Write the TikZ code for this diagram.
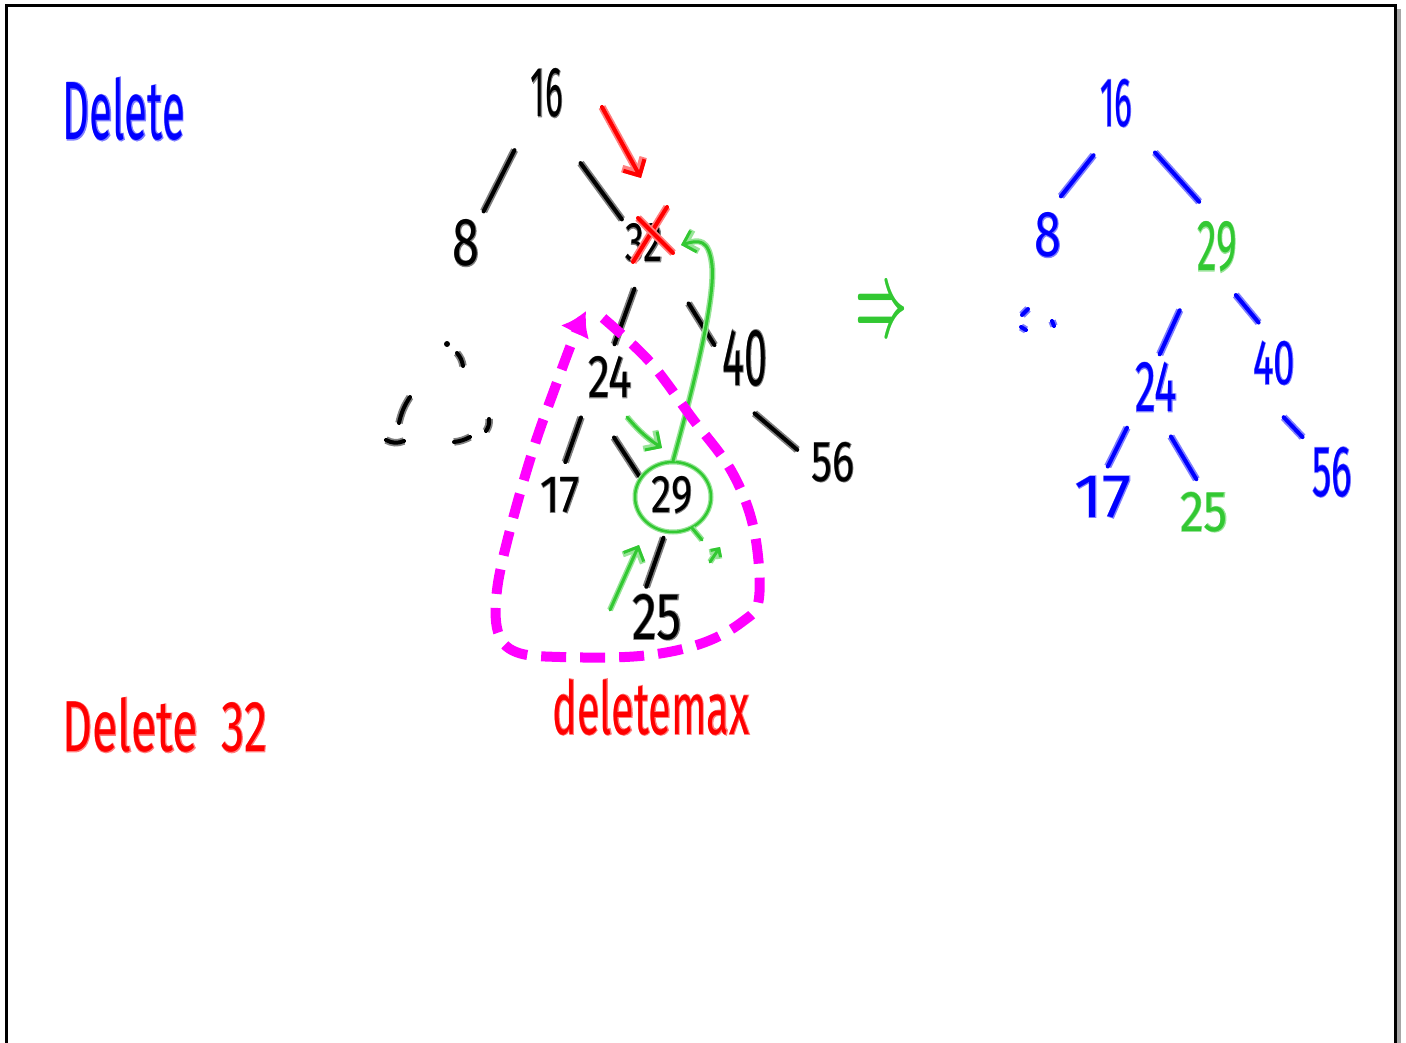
\documentclass[tikz,border=0pt]{standalone}
\usepackage{fontspec}
\setmainfont{Fira Sans}
\newfontfamily\halofont{Fira Sans}[FakeBold=2.5]
\usetikzlibrary{arrows.meta,calc,shapes.geometric}

\definecolor{inkblue}{RGB}{0,0,255}
\definecolor{inkred}{RGB}{255,0,0}
\definecolor{inkgreen}{RGB}{50,200,50}
\definecolor{inkmag}{RGB}{255,0,255}

% handwritten-looking label: halo colour, width, height, text
\newcommand\hw[4]{\resizebox{#2pt}{#3pt}{\rlap{\color{#1}\halofont #4}#4}}
% a tree stroke drawn along the line between two node anchors
\newcommand\seg[5]{\draw[#1] ($(#2)!#4!(#3)$) -- ($(#2)!#5!(#3)$);}

\tikzset{
  lbl/.style={inner sep=0pt, outer sep=0pt},
  kpen/.style={draw=black, line width=4pt, line cap=round, line join=round,
               preaction={draw=black!50, line width=7.5pt}},
  bpen/.style={draw=inkblue, line width=4pt, line cap=round, line join=round,
               preaction={draw=inkblue!50, line width=7.5pt}},
  rpen/.style={draw=inkred, line width=4pt, line cap=round, line join=round,
               preaction={draw=inkred!50, line width=7.5pt}},
  gpen/.style={draw=inkgreen, line width=3pt, line cap=round, line join=round,
               preaction={draw=inkgreen!50, line width=6pt}},
  barb/.style={-{Straight Barb[length=#1]}},
  loop/.style={draw=inkmag, line width=10pt, dash pattern=on 25pt off 14pt,
               line join=round, -{Latex[length=24pt,width=32pt]}}
}

\begin{document}
\begin{tikzpicture}[x=1pt,y=-1pt]
\useasboundingbox (0,0) rectangle (1406,1043);

% page frame with its shadow
\fill[gray!70] (1397,9) rectangle (1401,1043);
\draw[line width=2.5pt] (6.5,1043) -- (6.5,5.5) -- (1395.5,5.5) -- (1395.5,1043);

% titles
\node[lbl, text=inkblue] (tDelete) at (124,109) {\hw{inkblue!50}{122}{62}{Delete}};
\node[lbl, text=inkred] (tDelete32) at (165,725) {\hw{inkred!50}{205}{54}{Delete\hspace{0.5em}32}};
\node[lbl, text=inkred] (tDeletemax) at (651,707) {\hw{inkred!50}{197}{55}{deletemax}};

% left tree
\node[lbl] (n16) at (547,93)  {\hw{black!50}{32}{48}{16}};
\node[lbl] (n8)  at (466,243) {\hw{black!50}{27}{46}{8}};
\node[lbl] (n32) at (644,243) {\hw{black!50}{38}{38}{32}};
\node[lbl] (n24) at (610,377) {\hw{black!50}{44}{41}{24}};
\node[lbl] (n40) at (745,358) {\hw{black!50}{45}{55}{40}};
\node[lbl] (n17) at (560,495) {\hw{black!50}{40}{35}{17}};
\node[lbl] (n29) at (672,495) {\hw{black!50}{41}{36}{29}};
\node[lbl] (n25) at (657,617) {\hw{black!50}{50}{45}{25}};
\node[lbl] (n56) at (833,462) {\hw{black!50}{43}{39}{56}};

\seg{kpen}{n16.south west}{n8.north east}{.32}{.92}
\seg{kpen}{n16.south}{n32.north west}{.43}{.96}
\seg{kpen}{n32.south}{n24.north}{.28}{.87}
\seg{kpen}{n32.south east}{n40.west}{.43}{.865}
\seg{kpen}{n24.south west}{n17.north}{.25}{.81}
\seg{kpen}{n24.south west}{n29.west}{.41}{.81}
\seg{kpen}{n29.south}{n25.120}{.3}{.91}
\seg{kpen}{n40.south west}{n56.west}{.36}{.84}

% elided subtree of 8
\fill (447,344) circle (3pt);
\draw[kpen] (457,353) to[bend left=15] (463,366);
\draw[kpen] (410,397) to[bend right=10] (399,423);
\draw[kpen] (386,440) to[bend right=25] (404,441);
\draw[kpen] (454,442) to[bend right=10] (470,437);
\draw[kpen] (489,419) to[bend left=20] (486,431);

% 32 is crossed out
\draw[rpen, barb=12pt] (602,107) -- (641,178);
\draw[rpen] (667,207) -- (633,262);
\draw[rpen] (638,218) -- (673,253);

% the maximum of the left subtree
\node[draw=inkgreen, line width=2.5pt, ellipse, minimum width=76pt, minimum height=70pt,
      preaction={draw=inkgreen!50, line width=5pt}] (c29) at (673,497) {};
\draw[gpen, barb=11pt] (c29.north) .. controls (690,400) and (716,300) .. (712,265)
      .. controls (709,238) and (698,240) .. ($(n32.east)+(18,2)$);
\draw[gpen, barb=11pt] (627,417) to[bend right=8] (662,448);
\draw[gpen, barb=11pt] (610,610) -- (639,545);
\draw[gpen] (692,528) -- (702,540);
\draw[gpen, barb=6pt] (710,562) -- (720,547);

% deletemax runs over this subtree
\draw[loop] plot[smooth, tension=0.6] coordinates {
  (603,318) (650,362) (692,418) (732,472) (754,530) (759,598) (742,622)
  (700,644) (640,656) (560,657) (516,652) (498,632) (497,590) (510,530)
  (533,450) (556,385) (574,337) (586,311)};

% result
\node[lbl, text=inkgreen] (arrow) at (882,314) {\hw{inkgreen!50}{52}{40}{\boldmath$\Rightarrow$}};

% right tree
\node[lbl, text=inkblue]  (r16) at (1116,103) {\hw{inkblue!50}{32}{47}{16}};
\node[lbl, text=inkblue]  (r8)  at (1048,235) {\hw{inkblue!50}{27}{44}{8}};
\node[lbl, text=inkgreen] (r29) at (1217,247) {\hw{inkgreen!50}{40}{49}{29}};
\node[lbl, text=inkblue]  (r24) at (1156,387) {\hw{inkblue!50}{42}{49}{24}};
\node[lbl, text=inkblue]  (r40) at (1274,363) {\hw{inkblue!50}{42}{43}{40}};
\node[lbl, text=inkblue]  (r17) at (1103,497) {\hw{inkblue!50}{57}{41}{17}};
\node[lbl, text=inkgreen] (r25) at (1204,512) {\hw{inkgreen!50}{48}{39}{25}};
\node[lbl, text=inkblue]  (r56) at (1332,472) {\hw{inkblue!50}{40}{49}{56}};

\seg{bpen}{r16.south}{r8.north}{.33}{.81}
\seg{bpen}{r16.south east}{r29.north}{.27}{.79}
\seg{bpen}{r29.south west}{r24.north}{.42}{.91}
\seg{bpen}{r29.south}{r40.north}{.33}{.73}
\seg{bpen}{r24.south west}{r17.north}{.25}{.85}
\seg{bpen}{r24.south}{r25.north}{.31}{.84}
\seg{bpen}{r40.south west}{r56.north west}{.52}{.84}

% elided subtree of 8
\draw[bpen] (1028,309) -- (1022,315);
\draw[bpen] (1021,327) -- (1026,330);
\draw[bpen] (1052,321) -- (1054,326);
\end{tikzpicture}
\end{document}
